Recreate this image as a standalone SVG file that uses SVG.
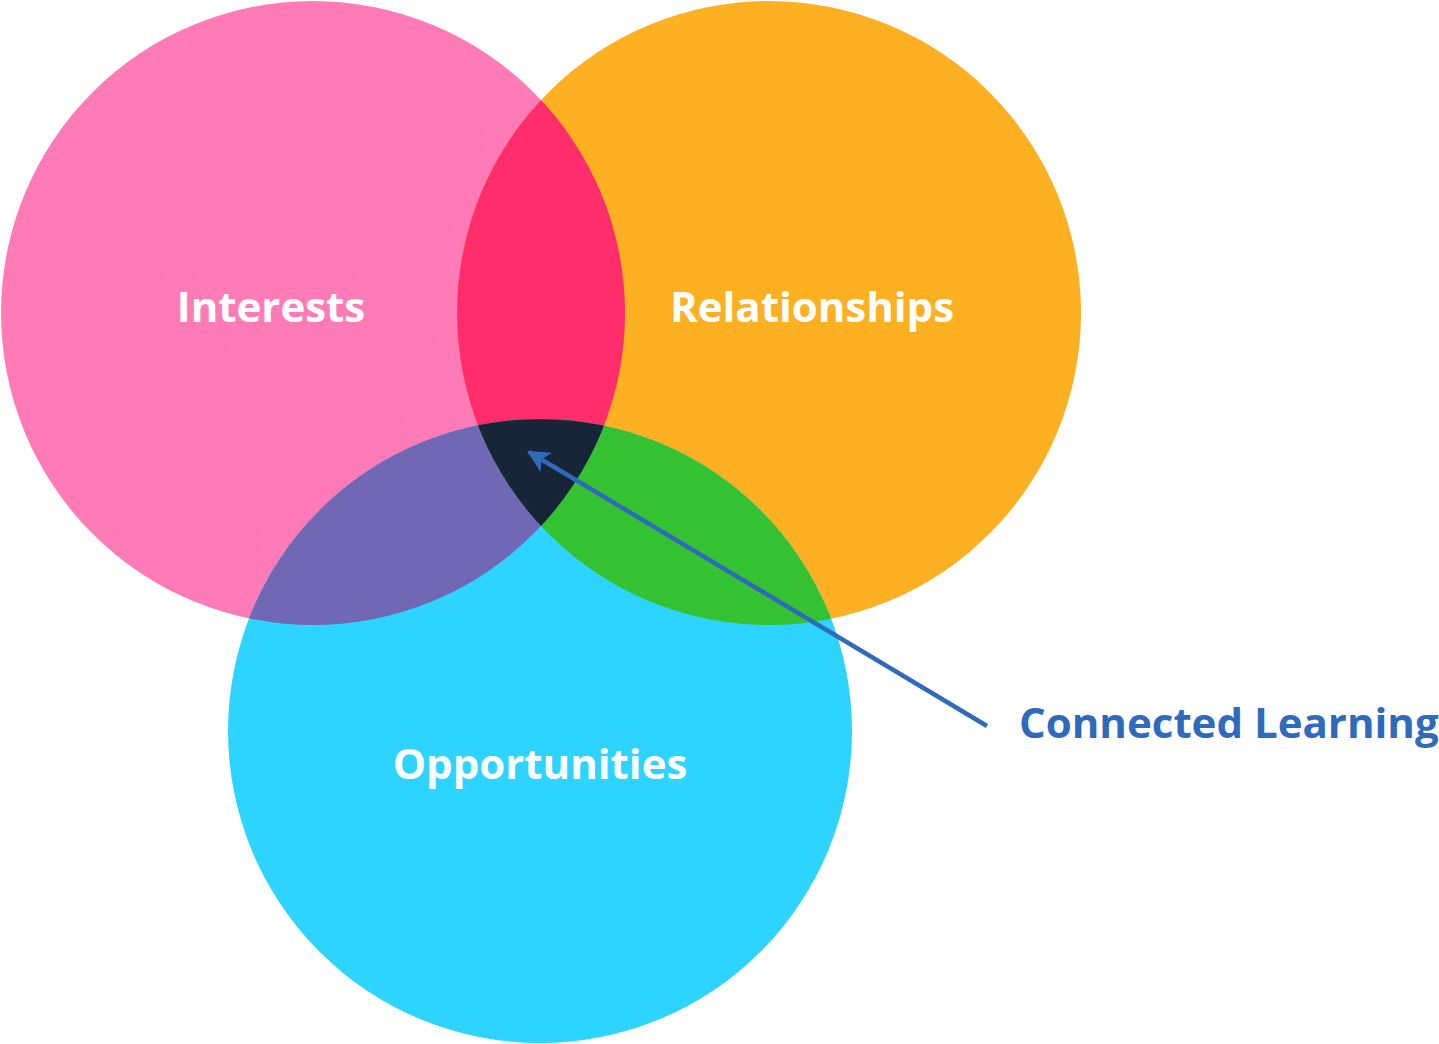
<svg xmlns="http://www.w3.org/2000/svg" width="1439" height="1044" viewBox="0 0 1439 1044">
<style>
.lbl{font-family:"Open Sans","Noto Sans","Liberation Sans",sans-serif;font-weight:700;font-size:42px;fill:#ffffff;text-anchor:middle}
.cl{font-family:"Open Sans","Noto Sans","Liberation Sans",sans-serif;font-weight:700;font-size:42px;fill:#2F6BBA}
</style>
<defs>
<clipPath id="cP"><circle cx="313" cy="313" r="312"/></clipPath>
<clipPath id="cO"><circle cx="769" cy="313" r="312"/></clipPath>
<clipPath id="cC"><circle cx="540" cy="731" r="312"/></clipPath>
<marker id="ah" viewBox="0 0 10 10" refX="9" refY="5" markerWidth="5" markerHeight="5" orient="auto" markerUnits="strokeWidth">
<path d="M0,0 L10,5 L0,10 L2.5,5 Z" fill="#2F6BBA"/>
</marker>
</defs>
<rect width="1439" height="1044" fill="#ffffff"/>
<g id="interests">
<circle cx="313" cy="313" r="312" fill="#FF7BB8"/>
<text class="lbl" x="271" y="322">Interests</text>
</g>
<g id="relationships">
<circle cx="769" cy="313" r="312" fill="#FDB022"/>
<text class="lbl" x="812" y="322">Relationships</text>
</g>
<g id="opportunities">
<circle cx="540" cy="731" r="312" fill="#2DD4FF"/>
<text class="lbl" x="540" y="779">Opportunities</text>
</g>
<g id="overlaps">
<g clip-path="url(#cP)"><circle cx="769" cy="313" r="312" fill="#FF2D6B"/></g>
<g clip-path="url(#cP)"><circle cx="540" cy="731" r="312" fill="#7067B5"/></g>
<g clip-path="url(#cO)"><circle cx="540" cy="731" r="312" fill="#34C232"/></g>
<g clip-path="url(#cP)"><g clip-path="url(#cO)"><circle cx="540" cy="731" r="312" fill="#182437"/></g></g>
</g>
<g id="connectors">
<line x1="987" y1="726" x2="529" y2="452" stroke="#2F6BBA" stroke-width="4.5" marker-end="url(#ah)"/>
</g>
<g id="connected-learning">
<text class="cl" x="1019" y="738">Connected Learning</text>
</g>
</svg>
